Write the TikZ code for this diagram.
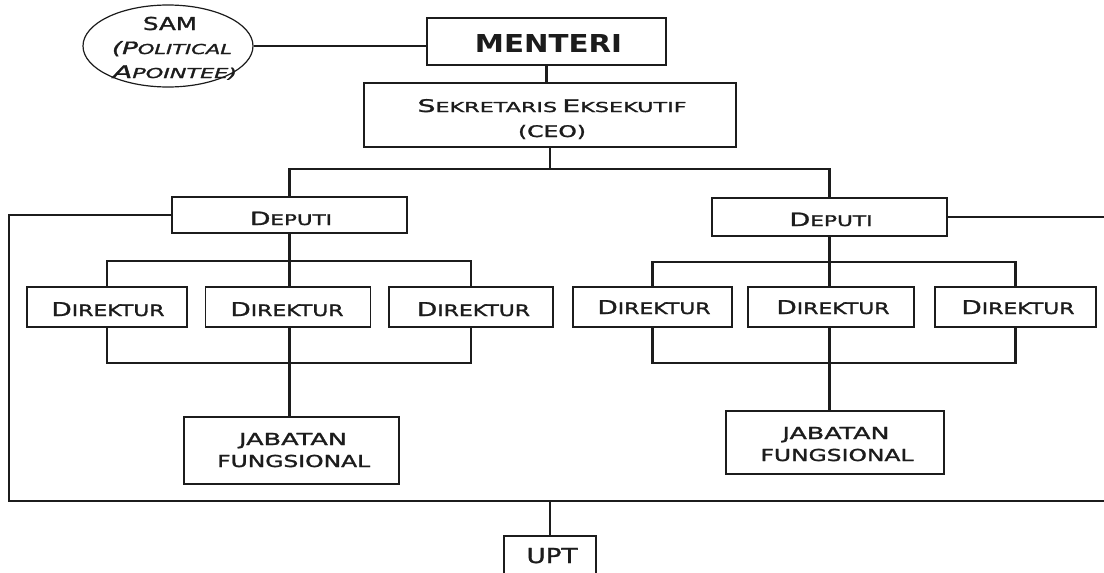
\documentclass[tikz,border=0pt]{standalone}
\usepackage{fontspec}
\usepackage{graphicx}
\setmainfont{DejaVu Sans}
\newfontfamily\cpf{DejaVu Sans}[FakeBold=1.3]
\usetikzlibrary{shapes.geometric}
\definecolor{ink}{HTML}{1C1C1C}
\newcommand\scp[4]{{\fontsize{#1}{#1}\selectfont #3}{\fontsize{#2}{#2}\selectfont #4}}
\newcommand\fitw[2]{\resizebox{#1pt}{\height}{#2}}
\begin{document}
\begin{tikzpicture}[x=1pt,y=-1pt,
  box/.style={draw=ink,line width=1.2pt,fill=white,inner sep=0pt,rectangle},
  conn/.style={draw=ink,line width=2.5pt},
  txt/.style={anchor=base,inner sep=0pt,text=ink,font=\cpf}]
\useasboundingbox (0,0) rectangle (1104,573);
\fill[white] (0,0) rectangle (1104,573);

% shapes
\node[draw=ink,line width=1.2pt,ellipse,minimum width=170,minimum height=82,inner sep=0pt] (sam) at (168,46) {};
\node[box,minimum width=239,minimum height=47] (menteri) at (546.5,41.5) {};
\node[box,minimum width=372,minimum height=64] (sek) at (550,115) {};
\node[box,minimum width=235,minimum height=36] (depL) at (289.5,215) {};
\node[box,minimum width=235,minimum height=38] (depR) at (829.5,217) {};
\node[box,minimum width=160,minimum height=40] (dL1) at (107,307) {};
\node[box,minimum width=165,minimum height=40] (dL2) at (288,307) {};
\node[box,minimum width=164,minimum height=40] (dL3) at (471,307) {};
\node[box,minimum width=159,minimum height=40] (dR1) at (652.5,307) {};
\node[box,minimum width=166,minimum height=40] (dR2) at (831,307) {};
\node[box,minimum width=161,minimum height=40] (dR3) at (1015.5,307) {};
\node[box,minimum width=215,minimum height=67] (jabL) at (291.5,450.5) {};
\node[box,minimum width=218,minimum height=63] (jabR) at (835,442.5) {};
\node[box,minimum width=92,minimum height=40] (upt) at (550,556) {};

% texts
\node[txt] (tSam) at (170,30) {\fitw{54}{\fontsize{17.8}{18}\selectfont SAM}};
\node[txt] (tPol) at (172,54) {\fitw{120}{\itshape\scp{17}{13.7}{(P}{OLITICAL}}};
\node[txt] (tApo) at (175,78) {\fitw{124}{\itshape\scp{17.4}{13.7}{A}{POINTEE)}}};
\node[txt,font=\normalfont] (tMen) at (548.5,52) {\fitw{147}{\bfseries\fontsize{24.7}{25}\selectfont MENTERI}};
\node[txt] (tSek) at (552,112) {\fitw{269}{\scp{17.4}{13.7}{S}{EKRETARIS} \scp{17.4}{13.7}{E}{KSEKUTIF}}};
\node[txt] (tCeo) at (552,137) {\fitw{68}{\fontsize{16}{16}\selectfont (CEO)}};
\node[txt] (tDepL) at (291,225) {\fitw{82}{\scp{18.3}{14.7}{D}{EPUTI}}};
\node[txt] (tDepR) at (831,226) {\fitw{83}{\scp{18.3}{14.7}{D}{EPUTI}}};
\node[txt] (tDL1) at (108,316) {\fitw{113}{\scp{19}{15.8}{D}{IREKTUR}}};
\node[txt] (tDL2) at (287,316) {\fitw{113}{\scp{19}{15.8}{D}{IREKTUR}}};
\node[txt] (tDL3) at (473.5,316) {\fitw{113}{\scp{19}{15.8}{D}{IREKTUR}}};
\node[txt] (tDR1) at (654,314) {\fitw{113}{\scp{19}{15.8}{D}{IREKTUR}}};
\node[txt] (tDR2) at (833,314) {\fitw{113}{\scp{19}{15.8}{D}{IREKTUR}}};
\node[txt] (tDR3) at (1018,314) {\fitw{113}{\scp{19}{15.8}{D}{IREKTUR}}};
\node[txt] (tJL1) at (293,445) {\fitw{108}{\fontsize{16.5}{17}\selectfont JABATAN}};
\node[txt] (tJL2) at (293.7,467) {\fitw{153}{\fontsize{16.5}{17}\selectfont FUNGSIONAL}};
\node[txt] (tJR1) at (836,439) {\fitw{107}{\fontsize{16.5}{17}\selectfont JABATAN}};
\node[txt] (tJR2) at (837,461) {\fitw{153}{\fontsize{16.5}{17}\selectfont FUNGSIONAL}};
\node[txt] (tUpt) at (552,563) {\fitw{51}{\fontsize{20.6}{21}\selectfont UPT}};

% connector points
\coordinate (hub) at (550,169);
\coordinate (cl) at (9,501);
\coordinate (cr) at (1104,501);
\coordinate (cR) at (1104,216);
\coordinate (tL) at (289.5,261);
\coordinate (bL) at (289.5,363);
\coordinate (tR) at (829.5,262);
\coordinate (bR) at (829.5,363);

% connectors
\draw[conn] (sam.east) -- (sam.east -| menteri.west);
\draw[conn] (menteri.south) -- (menteri.south |- sek.north);
\draw[conn] (sek.south) -- (hub);
\draw[conn] (depL.north) |- (hub) -| (depR.north);
\draw[conn] (depL.west) -| (cl) -- (cr);
\draw[conn] (depR.east) -- (depR.east -| cR);
\draw[conn] (upt.north) -- (upt.north |- cl);
\draw[conn] (depL.south) -- (depL.south |- dL2.north);
\draw[conn] (dL1.north) |- (tL) -| (dL3.north);
\draw[conn] (dL1.south) |- (bL) -| (dL3.south);
\draw[conn] (depL.south |- dL2.south) -- (depL.south |- jabL.north);
\draw[conn] (depR.south) -- (depR.south |- dR2.north);
\draw[conn] (dR1.north) |- (tR) -| (dR3.north);
\draw[conn] (dR1.south) |- (bR) -| (dR3.south);
\draw[conn] (depR.south |- dR2.south) -- (depR.south |- jabR.north);
\end{tikzpicture}
\end{document}
